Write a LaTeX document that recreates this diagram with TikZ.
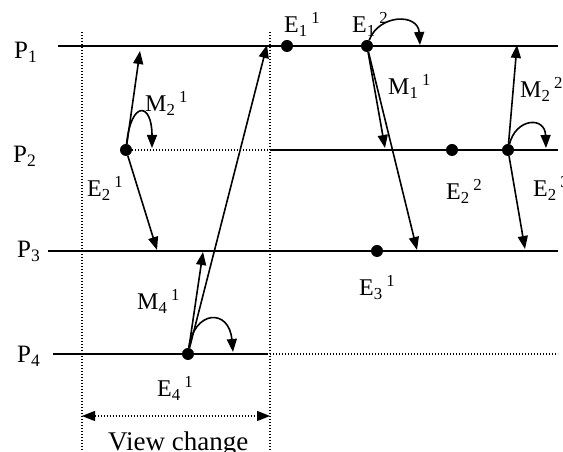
\documentclass[tikz,border=0pt]{standalone}
\usepackage{fontspec}
\setmainfont{Liberation Serif}
\usetikzlibrary{arrows.meta}
\definecolor{Ink}{HTML}{000000}
\newcommand{\evname}[3]{#1\textsubscript{#2}\hspace{0.15em}\textsuperscript{#3}}
\newcommand{\pname}[1]{P\textsubscript{#1}}

\begin{document}
\begin{tikzpicture}[x=1pt,y=1pt,>={Triangle[length=13pt,width=10pt]},
  lbl/.style={font=\fontsize{24}{28}\selectfont,inner sep=0pt,anchor=base west,text=Ink},
  evdot/.style={circle,fill=Ink,draw=none,inner sep=0pt,minimum size=12pt},
  tl/.style={Ink,line width=1.6pt},
  idle/.style={Ink,line width=1.1pt,dash pattern=on 1.1pt off 1.9pt},
  msg/.style={->,Ink,line width=1.6pt}]
\useasboundingbox (0,0) rectangle (563,452);
% view change borders
\draw[idle] (82,420) -- (82,0);
\draw[idle] (270,420) -- (270,0);
% process names
\node[lbl,font=\fontsize{25}{28}\selectfont] (p1) at (14,393) {\pname{1}};
\node[lbl,font=\fontsize{25}{28}\selectfont] (p2) at (13,289) {\pname{2}};
\node[lbl,font=\fontsize{25}{28}\selectfont] (p3) at (17,194) {\pname{3}};
\node[lbl,font=\fontsize{25}{28}\selectfont] (p4) at (17,89) {\pname{4}};
% events
\node[evdot] (e11) at (287,406) {};
\node[evdot] (e12) at (367,406) {};
\node[evdot] (e21) at (126,302) {};
\node[evdot] (e22) at (452,302) {};
\node[evdot] (e23) at (508,302) {};
\node[evdot] (e31) at (377,201) {};
\node[evdot] (e41) at (188,98) {};
% time lines
\draw[tl] (58,406) -- (558,406);
\draw[idle] (e21) -- (270,302);
\draw[tl] (270,302) -- (558,302);
\draw[tl] (48,201) -- (558,201);
\draw[tl] (53,98) -- (268,98);
\draw[idle] (270,98) -- (558,98);
% event labels
\node[lbl] (le11) at (284,419) {\evname{E}{1}{1}};
\node[lbl] (le12) at (352,419) {\evname{E}{1}{2}};
\node[lbl] (le21) at (87,255) {\evname{E}{2}{1}};
\node[lbl] (le22) at (446,252) {\evname{E}{2}{2}};
\node[lbl] (le23) at (533,255) {\evname{E}{2}{3}};
\node[lbl] (le31) at (359,156) {\evname{E}{3}{1}};
\node[lbl] (le41) at (157,55) {\evname{E}{4}{1}};
% message labels
\node[lbl] (lm21) at (145,340) {\evname{M}{2}{1}};
\node[lbl] (lm11) at (388,357) {\evname{M}{1}{1}};
\node[lbl] (lm22) at (520,354) {\evname{M}{2}{2}};
\node[lbl] (lm41) at (137,142) {\evname{M}{4}{1}};
% arrow ends
\coordinate (r21a) at (140,401);
\coordinate (r21b) at (157,202);
\coordinate (s21) at (152,304);
\coordinate (r41a) at (267,407);
\coordinate (r41b) at (203,200);
\coordinate (s41) at (233,100);
\coordinate (r12a) at (385,304);
\coordinate (r12b) at (417,202);
\coordinate (s12) at (420,407);
\coordinate (r23a) at (517,407);
\coordinate (r23b) at (525,203);
\coordinate (s23) at (546,304);
% messages
\draw[msg] (e21) -- (r21a);
\draw[msg] (e21) -- (r21b);
\draw[msg] (e21) .. controls +(5,50) and +(0,46) .. (s21);
\draw[msg] (e41) -- (r41a);
\draw[msg] (e41) -- (r41b);
\draw[msg] (e41) .. controls +(6,44) and +(-4,44) .. (s41);
\draw[msg] (e12) -- (r12a);
\draw[msg] (e12) -- (r12b);
\draw[msg] (e12) .. controls +(12,32) and +(-2,32) .. (s12);
\draw[msg] (e23) -- (r23a);
\draw[msg] (e23) -- (r23b);
\draw[msg] (e23) .. controls +(8,32) and +(-1,32) .. (s23);
% view change
\coordinate (vl) at (82,36);
\coordinate (vr) at (270,36);
\draw[idle,<->] (vl) -- (vr);
\node[lbl,font=\fontsize{27}{30}\selectfont] (vc) at (108,1) {View change};
\end{tikzpicture}
\end{document}
